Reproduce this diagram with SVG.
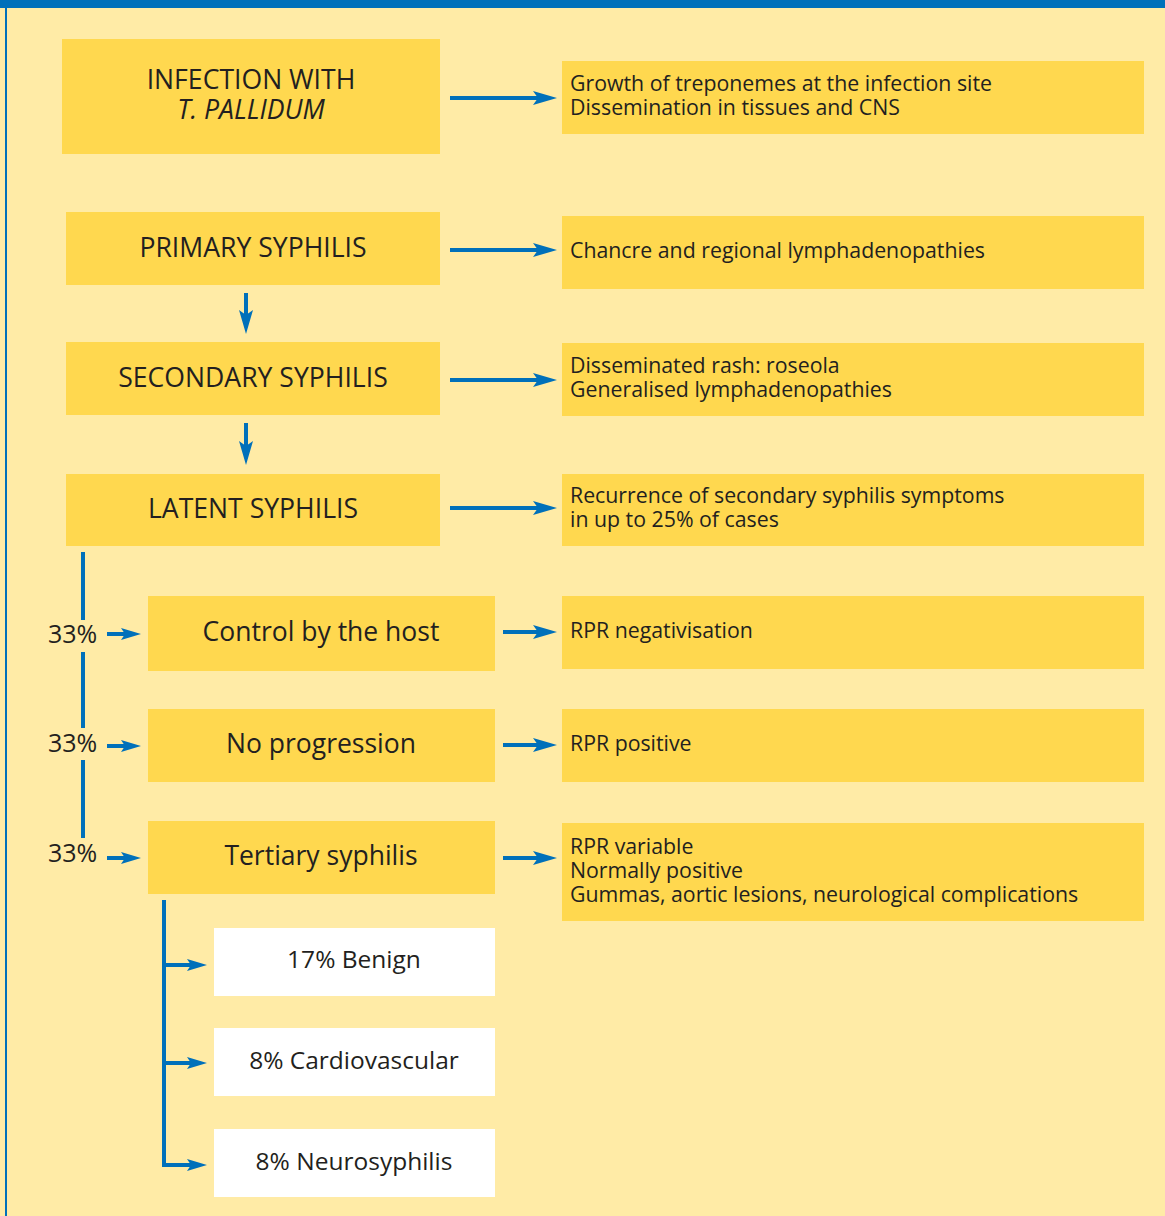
<svg xmlns="http://www.w3.org/2000/svg" width="1165" height="1216" viewBox="0 0 1165 1216">
<defs>
<style>
.bg{fill:#FFEBA6}
.box{fill:#FFD84F}
.wbox{fill:#FFFFFF}
.t{font-family:"Open Sans","Noto Sans","Liberation Sans",sans-serif;fill:#231F20}
.h{font-size:26.6px;text-anchor:middle}
.m{font-size:26.5px;text-anchor:middle}
.d{font-size:21.3px}
.p{font-size:25px}
.w{font-size:24.5px;text-anchor:middle}
.ln{stroke:#0070BA;stroke-width:4;fill:none}
.big{marker-end:url(#ah)}
.sm{marker-end:url(#as)}
</style>
<marker id="ah" markerUnits="userSpaceOnUse" markerWidth="24" markerHeight="16" refX="12" refY="8" orient="auto">
<path d="M0,1 L24,8 L0,15 L5,8 z" fill="#0070BA"/>
</marker>
<marker id="as" markerUnits="userSpaceOnUse" markerWidth="20" markerHeight="14" refX="10" refY="7" orient="auto">
<path d="M0,1 L20,7 L0,13 L4,7 z" fill="#0070BA"/>
</marker>
</defs>
<rect class="bg" x="0" y="0" width="1165" height="1216"/>
<rect x="0" y="0" width="1165" height="8" fill="#0070BA"/>
<rect x="5" y="8" width="2" height="1208" fill="#0070BA"/>

<g id="n-infection"><rect class="box" x="62" y="39" width="378" height="115"/>
<text class="t h" x="251" y="89">INFECTION WITH</text>
<text class="t h" x="251" y="119" font-style="italic">T. PALLIDUM</text></g>
<g id="n-infection-d"><rect class="box" x="562" y="61" width="582" height="73"/>
<text class="t d" x="570" y="91">Growth of treponemes at the infection site</text>
<text class="t d" x="570" y="115">Dissemination in tissues and CNS</text></g>

<g id="n-primary"><rect class="box" x="66" y="212" width="374" height="73"/>
<text class="t h" x="253" y="257">PRIMARY SYPHILIS</text></g>
<g id="n-primary-d"><rect class="box" x="562" y="216" width="582" height="73"/>
<text class="t d" x="570" y="258">Chancre and regional lymphadenopathies</text></g>

<g id="n-secondary"><rect class="box" x="66" y="342" width="374" height="73"/>
<text class="t h" x="253" y="387">SECONDARY SYPHILIS</text></g>
<g id="n-secondary-d"><rect class="box" x="562" y="343" width="582" height="73"/>
<text class="t d" x="570" y="373">Disseminated rash: roseola</text>
<text class="t d" x="570" y="397">Generalised lymphadenopathies</text></g>

<g id="n-latent"><rect class="box" x="66" y="474" width="374" height="72"/>
<text class="t h" x="253" y="518">LATENT SYPHILIS</text></g>
<g id="n-latent-d"><rect class="box" x="562" y="474" width="582" height="72"/>
<text class="t d" x="570" y="503">Recurrence of secondary syphilis symptoms</text>
<text class="t d" x="570" y="527">in up to 25% of cases</text></g>

<g id="n-control"><rect class="box" x="148" y="596" width="347" height="75"/>
<text class="t m" x="321" y="641">Control by the host</text></g>
<g id="n-control-d"><rect class="box" x="562" y="596" width="582" height="73"/>
<text class="t d" x="570" y="638">RPR negativisation</text></g>

<g id="n-noprog"><rect class="box" x="148" y="709" width="347" height="73"/>
<text class="t m" x="321" y="753">No progression</text></g>
<g id="n-noprog-d"><rect class="box" x="562" y="709" width="582" height="73"/>
<text class="t d" x="570" y="751">RPR positive</text></g>

<g id="n-tertiary"><rect class="box" x="148" y="821" width="347" height="73"/>
<text class="t m" x="321" y="865">Tertiary syphilis</text></g>
<g id="n-tertiary-d"><rect class="box" x="562" y="823" width="582" height="98"/>
<text class="t d" x="570" y="854">RPR variable</text>
<text class="t d" x="570" y="878">Normally positive</text>
<text class="t d" x="570" y="902">Gummas, aortic lesions, neurological complications</text></g>

<g id="n-benign"><rect class="wbox" x="214" y="928" width="281" height="68"/>
<text class="t w" x="354" y="968">17% Benign</text></g>
<g id="n-cardio"><rect class="wbox" x="214" y="1028" width="281" height="68"/>
<text class="t w" x="354" y="1069">8% Cardiovascular</text></g>
<g id="n-neuro"><rect class="wbox" x="214" y="1129" width="281" height="68"/>
<text class="t w" x="354" y="1170">8% Neurosyphilis</text></g>

<g id="labels">
<text class="t p" x="48" y="643">33%</text>
<text class="t p" x="48" y="752">33%</text>
<text class="t p" x="48" y="862">33%</text>
</g>

<g id="connectors">
<line class="ln big" x1="450" y1="98" x2="545" y2="98"/>
<line class="ln big" x1="450" y1="250" x2="545" y2="250"/>
<line class="ln big" x1="450" y1="380" x2="545" y2="380"/>
<line class="ln big" x1="450" y1="508" x2="545" y2="508"/>
<line class="ln big" x1="246" y1="293" x2="246" y2="322"/>
<line class="ln big" x1="246" y1="423" x2="246" y2="453"/>
<line class="ln big" x1="503" y1="632" x2="545" y2="632"/>
<line class="ln big" x1="503" y1="745" x2="545" y2="745"/>
<line class="ln big" x1="503" y1="858" x2="545" y2="858"/>
<line class="ln" x1="83" y1="552" x2="83" y2="620"/>
<line class="ln" x1="83" y1="652" x2="83" y2="728"/>
<line class="ln" x1="83" y1="760" x2="83" y2="838"/>
<line class="ln sm" x1="107" y1="634" x2="131" y2="634"/>
<line class="ln sm" x1="107" y1="746" x2="131" y2="746"/>
<line class="ln sm" x1="107" y1="858" x2="131" y2="858"/>
<path class="ln" d="M164,900 V1165"/>
<line class="ln sm" x1="164" y1="965" x2="197" y2="965"/>
<line class="ln sm" x1="164" y1="1063" x2="197" y2="1063"/>
<line class="ln sm" x1="162" y1="1165" x2="197" y2="1165"/>
</g>
</svg>
